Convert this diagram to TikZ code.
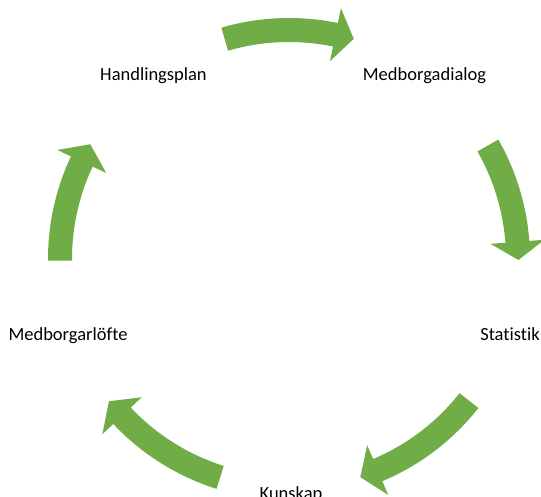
\documentclass[tikz,border=0pt]{standalone}
\usepackage{fontspec}
\setmainfont{Carlito}[Ligatures=NoCommon]
\definecolor{cyclegreen}{HTML}{70AD47}
\newcommand\cyclearrow[3]{% tail angle, head base angle, tip angle
  \fill[arrowfill] (#1:217pt) arc[start angle=#1, end angle=#2, radius=217pt]
    -- (#2:202pt) -- (#3:229.5pt) -- (#2:256pt) -- (#2:241pt)
    arc[start angle=#2, end angle=#1, radius=241pt] -- cycle;}
\begin{document}
\begin{tikzpicture}[x=1pt,y=1pt,
  arrowfill/.style={fill=cyclegreen},
  lbl/.style={font=\fontsize{18.5}{22}\selectfont, inner sep=0pt, text=black, anchor=base}]
\useasboundingbox (0,0) rectangle (541,497);
\begin{scope}[shift={(289,238)}]
  \cyclearrow{106.3}{78.3}{73.6}
  \cyclearrow{29.7}{4.3}{-0.25}
  \cyclearrow{-38.2}{-67.2}{-71.9}
  \cyclearrow{-107.5}{-136.8}{-141.7}
  \cyclearrow{180.4}{154.8}{150.0}
\end{scope}
\node[lbl] (plan) at (153.5,416) {Handlingsplan};
\node[lbl] (dialog) at (424.5,416) {Medborgadialog};
\node[lbl] (stat) at (510,156) {Statistik};
\node[lbl] (kunskap) at (291,-2.5) {Kunskap};
\node[lbl] (lofte) at (68,156) {Medborgarlöfte};
\end{tikzpicture}
\end{document}
